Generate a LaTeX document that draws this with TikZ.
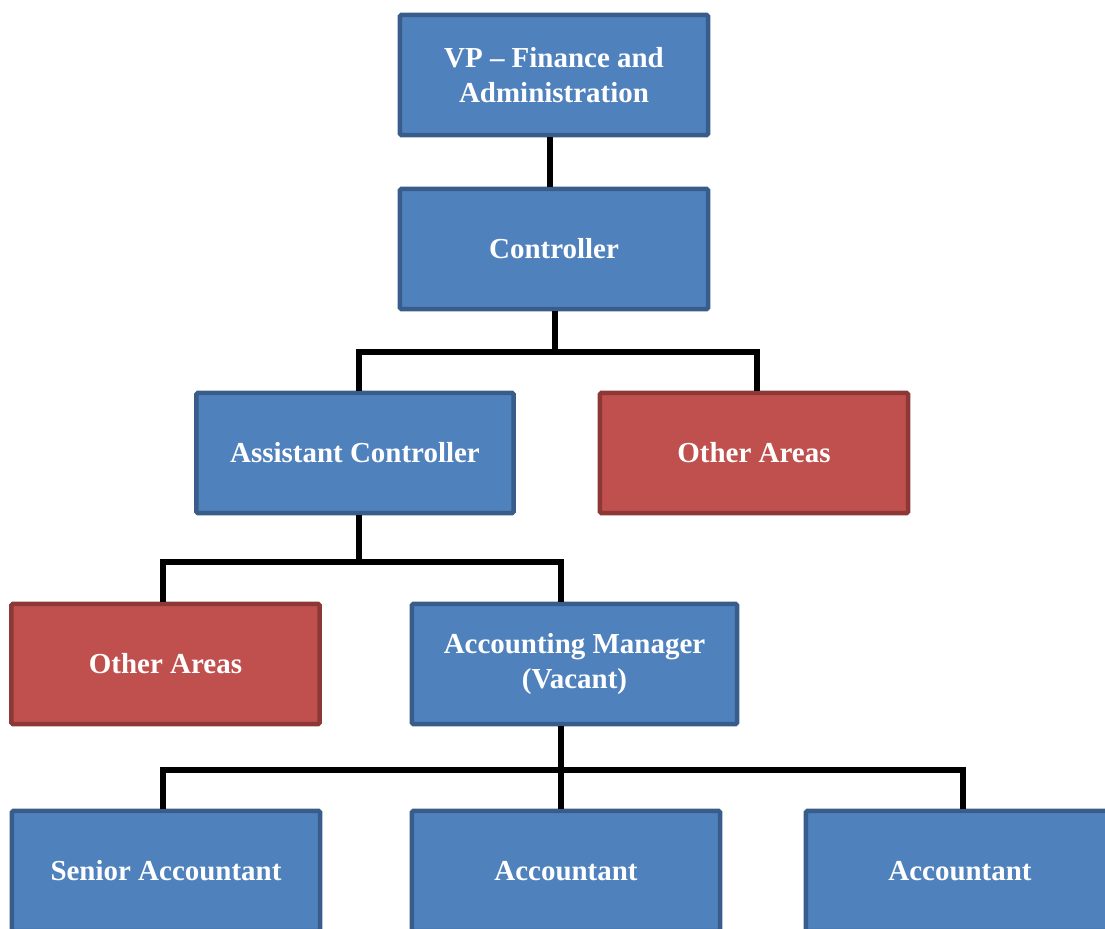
\documentclass[tikz,border=0pt]{standalone}
\usepackage{fontspec}
\setmainfont{Liberation Serif}
\usetikzlibrary{calc, positioning}

\definecolor{boxblue}{HTML}{4F81BD}
\definecolor{edgeblue}{HTML}{385D8A}
\definecolor{boxred}{HTML}{C0504D}
\definecolor{edgered}{HTML}{8C3836}

\begin{document}
\begin{tikzpicture}[x=0.025cm, y=-0.025cm,
	box/.style={rectangle, rounded corners=1pt, line width=3.2pt, minimum width=7.7cm, minimum height=3cm,
		align=center, text=white, font=\bfseries\fontsize{20.6}{25}\selectfont, inner sep=0pt},
	bluebox/.style={box, fill=boxblue, draw=edgeblue},
	redbox/.style={box, fill=boxred, draw=edgered},
	link/.style={line width=3.6pt, black}]
			\useasboundingbox (0,0) rectangle (1105,928);
			\clip (0,0) rectangle (1105,928);
			
			% Top of the chart
			\node[bluebox] (vp) at (554,75) {VP -- Finance and\\Administration};
			\node[bluebox] (ctrl) at (554,249) {Controller};
			
			% Second level
			\node[bluebox, minimum width=7.925cm] (asst) at (355,453) {Assistant Controller};
			\node[redbox] (other1) at (754,453) {Other Areas};
			
			% Third level
			\node[redbox] (other2) at (165.5,664) {Other Areas};
			\node[bluebox, minimum width=8.125cm] (am) at (574.5,664) {Accounting Manager\\(Vacant)};
			
			% Staff
			\node[bluebox] (senior) at (166,871) {Senior Accountant};
			\node[bluebox] (acc1) at (566,871) {Accountant};
			\node[bluebox] (acc2) at (960,871) {Accountant};
			
			% Connectors
			\draw[link] (vp.south -| 550,0) -- (ctrl.north -| 550,0);
			\coordinate (ctrlBus) at (555,352);
			\draw[link] (ctrl.south -| ctrlBus) -- (ctrlBus);
			\draw[link] (asst.north -| 359,0) |- (ctrlBus) -| (other1.north -| 757,0);
			
			\coordinate (asstBus) at (359,562);
			\draw[link] (asst.south -| asstBus) -- (asstBus);
			\draw[link] (other2.north -| 163,0) |- (asstBus) -| (am.north -| 561,0);
			
			\coordinate (amBus) at (561,770);
			\draw[link] (am.south -| amBus) -- (amBus);
			\draw[link] (senior.north -| 163,0) |- (amBus) -| (acc2.north -| 963,0);
			\draw[link] (amBus) -- (acc1.north -| amBus);
		\end{tikzpicture}
\end{document}
